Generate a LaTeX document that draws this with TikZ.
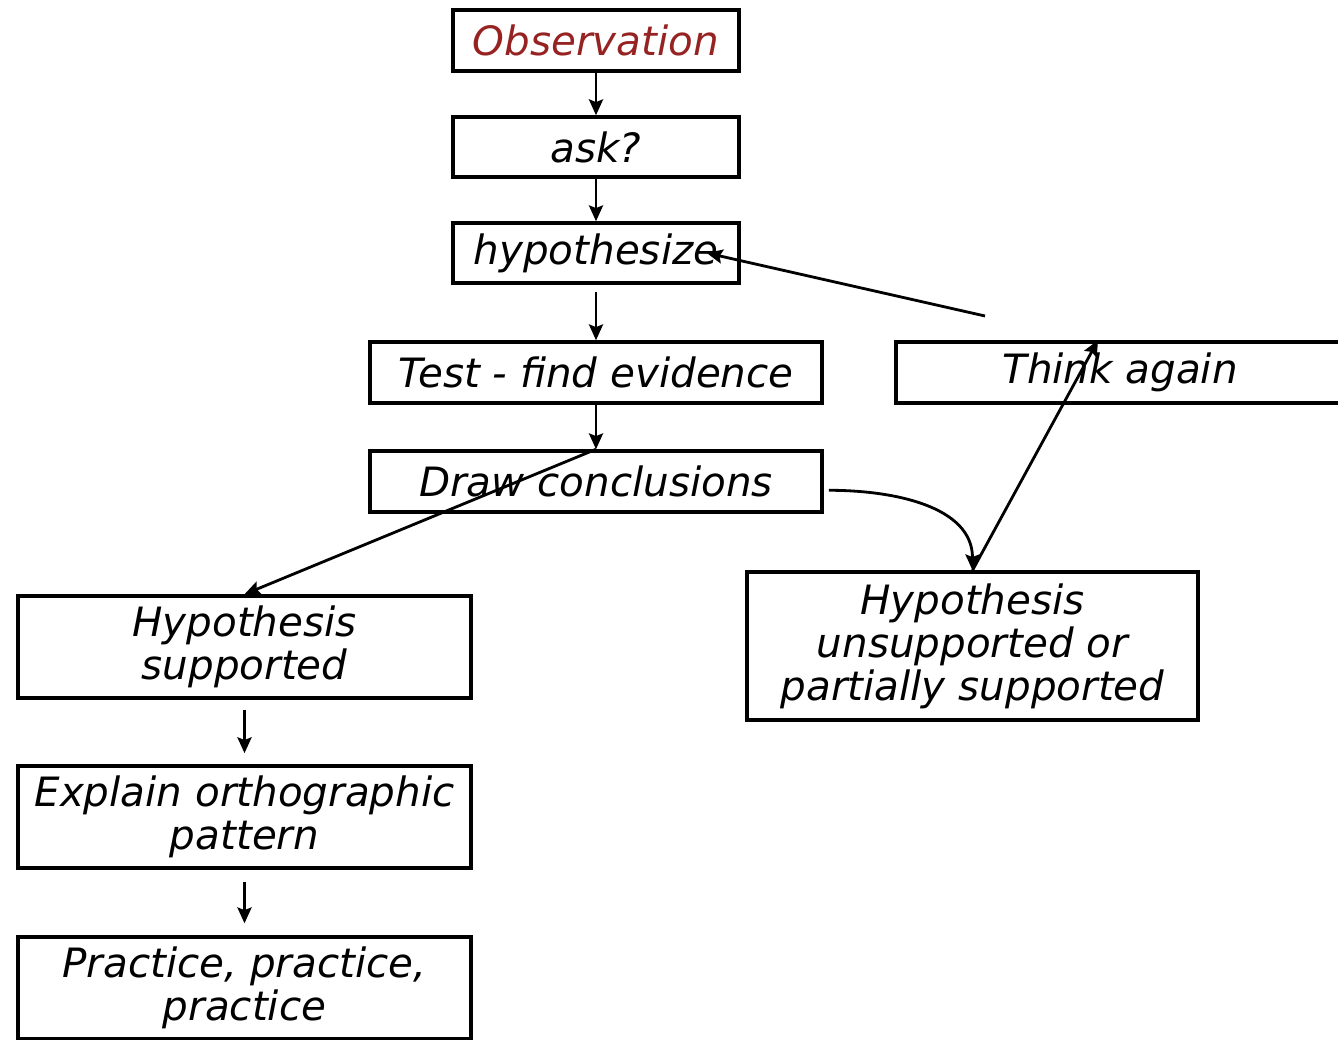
\documentclass[tikz,border=0pt]{standalone}
\usepackage{fontspec}
\setmainfont{DejaVu Sans}
\usetikzlibrary{arrows.meta}
\definecolor{obsred}{RGB}{150,34,34}
\begin{document}
\begin{tikzpicture}[x=0.02cm, y=-0.02cm,
  stage/.style={draw, line width=2pt, align=center, inner sep=0pt,
    font=\fontsize{23}{24.5}\selectfont\itshape},
  link/.style={line width=1.6pt, -{Stealth[length=9pt, width=8pt, inset=1.5pt]}}]
\clip (0,0) rectangle (1338,1040);
\node[stage, minimum width=5.72cm, minimum height=1.22cm, text=obsred] (a) at (596,40.5) {Observation};
\node[stage, minimum width=5.72cm, minimum height=1.2cm] (b) at (596,147) {ask?};
\node[stage, minimum width=5.72cm, minimum height=1.2cm] (c) at (596,253) {hypothesize};
\node[stage, minimum width=9.04cm, minimum height=1.22cm] (d) at (596,372.5) {Test - find evidence};
\node[stage, minimum width=9.04cm, minimum height=1.22cm] (e) at (596,481.5) {Draw conclusions};
\node[stage, minimum width=8.96cm, minimum height=1.22cm] (f) at (1120,372.5) {Think again};
\node[stage, minimum width=9.06cm, minimum height=2.04cm] (g) at (244.5,647) {Hypothesis\\supported};
\node[stage, minimum width=9.06cm, minimum height=2.04cm] (h) at (244.5,817) {Explain orthographic\\pattern};
\node[stage, minimum width=9.06cm, minimum height=2.04cm] (i) at (244.5,988) {Practice, practice,\\practice};
\node[stage, minimum width=9.02cm, minimum height=2.96cm] (j) at (972.5,646) {Hypothesis\\unsupported or\\partially supported};
\coordinate (back) at (985,316);
\draw[link] (a) -- (b);
\draw[link] (b) -- (c);
\draw[link, shorten <=4pt] (c) -- (d);
\draw[link] (d) -- (e);
\draw[link] (e.north) -- (g.north);
\draw[link] ([xshift=3pt,yshift=-5pt]e.east) to[out=0, in=90] (j.north);
\draw[link] (j.north) -- ([xshift=-0.44cm]f.north);
\draw[link] (back) -- ([xshift=-0.68cm]c.east);
\draw[link, shorten <=5.7pt, shorten >=6.3pt] (g) -- (h);
\draw[link, shorten <=6.8pt, shorten >=6.8pt] (h) -- (i);
\end{tikzpicture}
\end{document}
